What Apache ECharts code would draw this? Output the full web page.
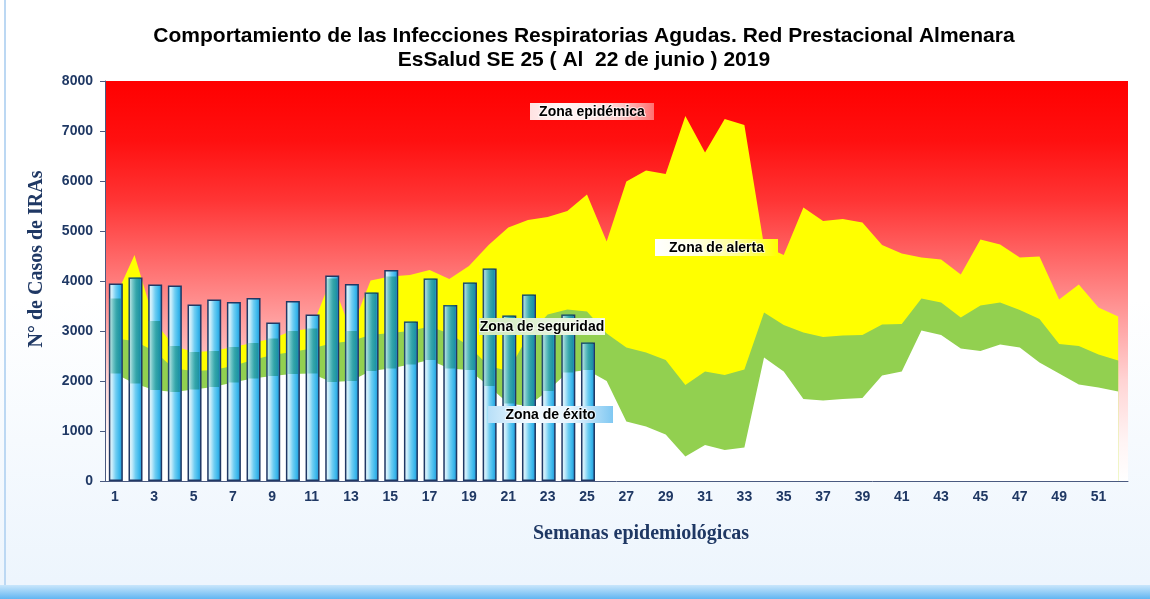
<!DOCTYPE html>
<style>
html, body {margin: 0; height: 100%; overflow: hidden;}
body {background: linear-gradient(#ffffff 0%, #ffffff 50%, #edf5fd 97%);}
#div_borde {position: absolute; left: 4px; top: 0; height: 599px; width: 2px; background: #bcd8f3;}
#div_franja {position: absolute; left: 0; top: 585px; height: 14px; width: 1150px; background: linear-gradient(#c9e6fb, #62b6f2);}
#div_echart {position: absolute; left: 0; top: 0; height: 599px; width: 1150px;}
</style>
<script src='https://cdn.jsdelivr.net/npm/echarts@6/dist/echarts.min.js'></script>
<div id='div_borde'></div>
<div id='div_franja'></div>
<div id='div_echart'></div>
<script>
let semanas = ['1', '2', '3', '4', '5', '6', '7', '8', '9', '10', '11', '12', '13', '14', '15', '16', '17', '18', '19', '20', '21', '22', '23', '24', '25', '26',
	'27', '28', '29', '30', '31', '32', '33', '34', '35', '36', '37', '38', '39', '40', '41', '42', '43', '44', '45', '46', '47', '48', '49', '50', '51', '52']
// casos de IRAs 2019, SE 1 a 25
let casos = [3950, 4070, 3930, 3910, 3530, 3630, 3580, 3660, 3170, 3600, 3330, 4110, 3940, 3770, 4220, 3190, 4050, 3520, 3970, 4250, 3310, 3730, 3100, 3330, 2770]
// techo de cada zona del canal endemico
let limite_alerta = [3650, 4520, 3200, 2700, 2580, 2600, 2680, 2760, 2850, 3000, 3050, 4050, 3000, 4010, 4090, 4120, 4220, 4040, 4300, 4720, 5070, 5220, 5280, 5400, 5730, 4790,
	5990, 6210, 6140, 7300, 6570, 7240, 7120, 4700, 4520, 5470, 5200, 5240, 5170, 4720, 4550, 4470, 4430, 4130, 4830, 4730, 4470, 4490, 3630, 3930, 3470, 3290]
let limite_seguridad = [2850, 2800, 2600, 2250, 2200, 2220, 2300, 2420, 2520, 2580, 2650, 2750, 2800, 2920, 2960, 3000, 3090, 2950, 2700, 2300, 2200, 2900, 3330, 3430, 3390, 2950,
	2670, 2570, 2420, 1920, 2190, 2120, 2230, 3370, 3120, 2970, 2880, 2910, 2920, 3130, 3140, 3650, 3570, 3270, 3510, 3570, 3420, 3240, 2740, 2700, 2530, 2410]
let limite_exito = [2150, 1950, 1820, 1780, 1830, 1880, 1970, 2050, 2100, 2140, 2150, 1980, 2000, 2200, 2250, 2330, 2420, 2250, 2220, 1900, 1550, 1500, 1800, 2170, 2220, 2000,
	1190, 1090, 930, 490, 720, 620, 670, 2470, 2190, 1640, 1610, 1640, 1660, 2110, 2190, 3010, 2920, 2650, 2600, 2730, 2670, 2370, 2150, 1930, 1870, 1790]

let azul = '#1f3864'
// tramo de cada barra que cae sobre las zonas de seguridad y alerta (se tiñe)
let tinte_base = casos.map((v, i) => Math.min(v, limite_exito[i]))
let tinte_tramo = casos.map((v, i) => Math.max(0, Math.min(v, limite_alerta[i]) - limite_exito[i]))

let echart = echarts.init(document.getElementById('div_echart'))

function zona(data, color) {
	return {type: 'line', data, z: 1, symbol: 'none', silent: true, lineStyle: {width: 0, opacity: 0},
		areaStyle: {color, opacity: 1}}
}
function gradiente(stops) {
	return {type: 'linear', x: 0, y: 0, x2: 1, y2: 0, colorStops: stops.map((c, i) => ({offset: i / (stops.length - 1), color: c}))}
}
function etiqueta(texto, x, y, w, h, stops) {
	return {type: 'group', x, y, z: 20, children: [
		{type: 'rect', z: 20, shape: {x: 0, y: 0, width: w, height: h}, style: {fill: gradiente(stops)}},
		{type: 'text', z: 21, x: w / 2, y: h / 2 + 1, style: {text: texto, font: 'bold 14px "Liberation Sans"', fill: '#000',
			align: 'center', verticalAlign: 'middle', stroke: 'rgba(255,255,255,0.7)', lineWidth: 2}}
	]}
}

echart.setOption({
	animation: false,
	grid: {left: 105, right: 22, top: 81, bottom: 118, show: true, borderWidth: 0,
		backgroundColor: {type: 'linear', x: 0, y: 0, x2: 0, y2: 1, colorStops: [
			{offset: 0, color: '#ff0000'}, {offset: 0.15, color: '#ff1010'}, {offset: 0.3, color: '#ff3535'},
			{offset: 0.45, color: '#ff6a6a'}, {offset: 0.6, color: '#ffa0a0'}, {offset: 0.75, color: '#ffd4d4'},
			{offset: 0.9, color: '#fff4f4'}, {offset: 1, color: '#ffffff'}]}},
	xAxis: {type: 'category', data: semanas, boundaryGap: true, z: 10,
		axisLine: {lineStyle: {color: '#4a5a80', width: 1}},
		axisTick: {interval: 0, length: 5, lineStyle: {color: '#4a5a80'}},
		axisLabel: {interval: 1, margin: 9, color: azul, fontWeight: 'bold', fontSize: 14, fontFamily: 'Liberation Sans'},
		splitLine: {show: false}},
	yAxis: {type: 'value', min: 0, max: 8000, interval: 1000, z: 10,
		axisLine: {show: true, lineStyle: {color: '#4a5a80', width: 1}},
		axisTick: {show: true, length: 5, lineStyle: {color: '#4a5a80'}},
		axisLabel: {margin: 12, color: azul, fontWeight: 'bold', fontSize: 14, fontFamily: 'Liberation Sans', formatter: v => String(v)},
		splitLine: {show: false}},
	series: [
		zona(limite_alerta, '#ffff00'),
		zona(limite_seguridad, '#92d050'),
		zona(limite_exito, '#ffffff'),
		{type: 'bar', data: casos, barWidth: 14, barGap: '-100%', silent: true, z: 2,
			itemStyle: {borderColor: '#203864', borderWidth: 1.5,
				color: gradiente(['#f4fbfe', '#c4ebfa', '#6fcdf2', '#3cb8ec', '#1e8fcf'])}},
		{type: 'bar', data: tinte_base, stack: 'tinte', barWidth: 12, barGap: '-100%', silent: true, z: 3,
			itemStyle: {color: 'rgba(0,0,0,0)'}},
		{type: 'bar', data: tinte_tramo, stack: 'tinte', barWidth: 12, barGap: '-100%', silent: true, z: 3,
			itemStyle: {color: gradiente(['rgba(60,170,150,0.12)', 'rgba(40,160,140,0.45)', 'rgba(20,140,120,0.6)', 'rgba(10,120,110,0.55)'])}}
	],
	graphic: [
		{type: 'text', x: 584, y: 36, style: {text: 'Comportamiento de las Infecciones Respiratorias Agudas. Red Prestacional Almenara',
			font: 'bold 21px "Liberation Sans"', fill: '#000', align: 'center', verticalAlign: 'middle'}},
		{type: 'text', x: 584, y: 60, style: {text: 'EsSalud SE 25 ( Al  22 de junio ) 2019',
			font: 'bold 21px "Liberation Sans"', fill: '#000', align: 'center', verticalAlign: 'middle'}},
		{type: 'text', x: 37, y: 259, rotation: Math.PI / 2, style: {text: 'N° de Casos de IRAs',
			font: 'bold 20px "Liberation Serif"', fill: azul, align: 'center', verticalAlign: 'middle'}},
		{type: 'text', x: 641, y: 534, style: {text: 'Semanas epidemiológicas',
			font: 'bold 20px "Liberation Serif"', fill: azul, align: 'center', verticalAlign: 'middle'}},
		etiqueta('Zona epidémica', 530, 103, 124, 17, ['#ffe2e2', '#fff6f6', '#ffeaea', '#ffc8c8', '#ff7070']),
		etiqueta('Zona de alerta', 655, 239, 123, 17, ['#ffffff', '#ffffe0', '#ffff90', '#ffff00']),
		etiqueta('Zona de seguridad', 479, 318, 126, 17, ['#cfe9bb', '#e2f2d6', '#f2f9ec']),
		etiqueta('Zona de éxito', 488, 406, 125, 17, ['#b7dff8', '#f4faff', '#e6f4fd', '#80c8f2'])
	]
})
</script>
